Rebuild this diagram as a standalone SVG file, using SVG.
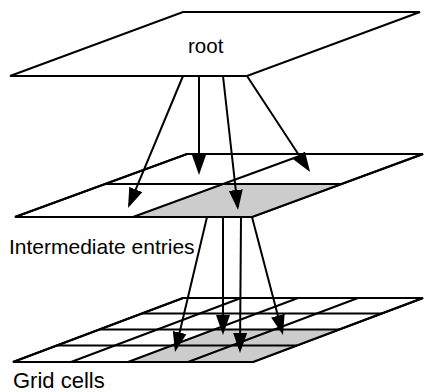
<svg xmlns="http://www.w3.org/2000/svg" width="424" height="392" viewBox="0 0 424 392">
  <style>
    .plane { fill: #ffffff; stroke: #000000; stroke-width: 2; stroke-linejoin: miter; }
    .outline { fill: none; stroke: #000000; stroke-width: 2; stroke-linejoin: miter; }
    .line { fill: none; stroke: #000000; stroke-width: 2; }
    .shade { fill: #cccccc; stroke: none; }
    .label { font-family: "Liberation Sans", Arial, sans-serif; fill: #000000; }
    .edge { fill: none; stroke: #000000; stroke-width: 2; marker-end: url(#arrow); }
  </style>
  <defs>
    <marker id="arrow" markerUnits="userSpaceOnUse" markerWidth="20" markerHeight="14" viewBox="0 0 20 14" refX="17" refY="7" orient="auto">
      <path d="M0,0 L20,7 L0,14 z" fill="#000000"/>
    </marker>
  </defs>

  <rect width="424" height="392" fill="#ffffff"/>

  <!-- top level: single root cell -->
  <g id="root">
    <polygon class="plane" points="183,12 420,12 247,76 10,76"/>
    <text class="label" x="188" y="53" font-size="20.5">root</text>
  </g>

  <!-- middle level: 2x2 entries, lower-right one highlighted -->
  <g id="intermediate">
    <polygon class="plane" points="187,154 423,154 252,217 15,217"/>
    <polygon class="shade" points="133,217 252,217 342.1,184 223.1,184"/>
    <line class="line" x1="105.1" y1="184" x2="342.1" y2="184"/>
    <line class="line" x1="133" y1="217" x2="305" y2="154"/>
    <polygon class="outline" points="187,154 423,154 252,217 15,217"/>
    <text class="label" x="9" y="254" font-size="21">Intermediate entries</text>
  </g>

  <!-- bottom level: 4x4 grid, lower-right 2x2 block highlighted -->
  <g id="grid">
    <polygon class="plane" points="183,298 423,298 253,362 13,362"/>
    <polygon class="shade" points="128,362 253,362 339.3,329.5 214.3,329.5"/>
    <line class="line" x1="141.8" y1="313.5" x2="381.8" y2="313.5"/>
    <line class="line" x1="99.3" y1="329.5" x2="339.3" y2="329.5"/>
    <line class="line" x1="56.8" y1="345.5" x2="296.8" y2="345.5"/>
    <line class="line" x1="71" y1="362" x2="241" y2="298"/>
    <line class="line" x1="128" y1="362" x2="298" y2="298"/>
    <line class="line" x1="188" y1="362" x2="358" y2="298"/>
    <polygon class="outline" points="183,298 423,298 253,362 13,362"/>
    <text class="label" x="13" y="388" font-size="22">Grid cells</text>
  </g>

  <!-- references between levels -->
  <g id="connectors">
    <line class="edge" x1="183" y1="76" x2="129.2" y2="205.2"/>
    <line class="edge" x1="199" y1="76" x2="199" y2="172"/>
    <line class="edge" x1="223" y1="76" x2="237.7" y2="207"/>
    <line class="edge" x1="247" y1="76" x2="308.4" y2="169.5"/>
    <line class="edge" x1="207" y1="217" x2="175.7" y2="349.1"/>
    <line class="edge" x1="223" y1="217" x2="223" y2="332"/>
    <line class="edge" x1="241" y1="217" x2="240" y2="350"/>
    <line class="edge" x1="252" y1="217" x2="282.2" y2="332.1"/>
  </g>
</svg>
